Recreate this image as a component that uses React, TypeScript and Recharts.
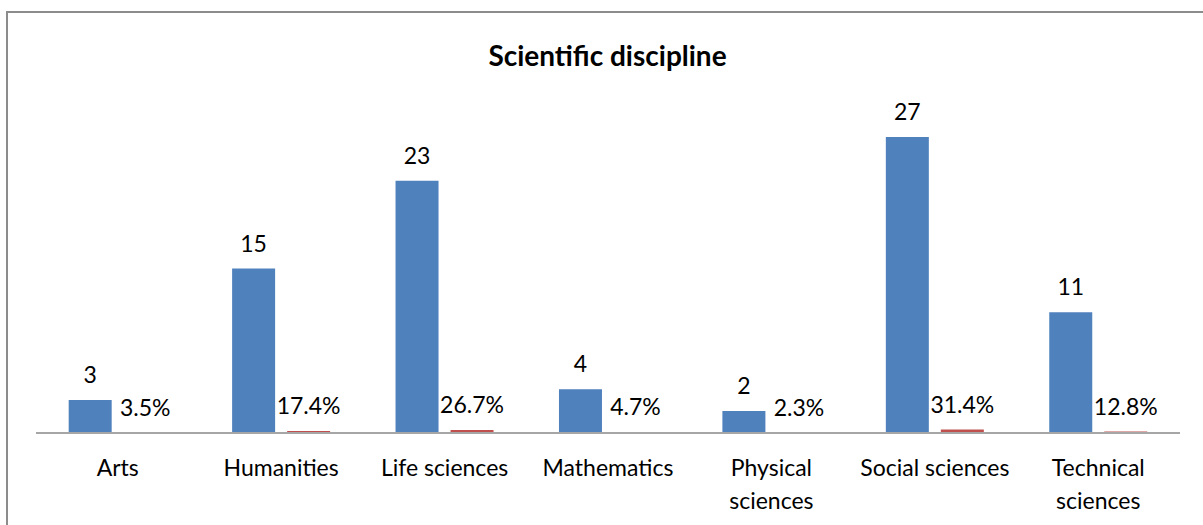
import React from 'react';
import { BarChart, Bar, XAxis, YAxis, LabelList } from 'recharts';

const categories = ['Arts', 'Humanities', 'Life sciences', 'Mathematics', 'Physical sciences', 'Social sciences', 'Technical sciences'];
const tickLines: Record<string, string[]> = {
  'Physical sciences': ['Physical', 'sciences'],
  'Technical sciences': ['Technical', 'sciences'],
};
const counts = [3, 15, 23, 4, 2, 27, 11];
const shares = [0.035, 0.174, 0.267, 0.047, 0.023, 0.314, 0.128];

const data = categories.map((c, i) => ({ name: c, count: counts[i], share: shares[i] }));

const FONT = 'Lato, "Open Sans", sans-serif';
const FS = 23;

const Tick = (props: any) => {
  const { x, y, payload } = props;
  const lines = tickLines[payload.value] || [payload.value];
  return (
    <g>
      {lines.map((l: string, i: number) => (
        <text key={i} x={x} y={y + 26 + i * 33} textAnchor="middle" dominantBaseline="central" fontSize={FS} fontFamily={FONT} fill="#000">
          {l}
        </text>
      ))}
    </g>
  );
};

const makeLabel = (fmt: (v: number) => string) => (props: any) => {
  const { x, y, width, value } = props;
  return (
    <text x={x + width / 2} y={y - 26} textAnchor="middle" dominantBaseline="central" fontSize={FS} fontFamily={FONT} fill="#000">
      {fmt(value)}
    </text>
  );
};

export default function App() {
  return (
    <div style={{ position: 'absolute', left: 0, top: 0, width: 1203, height: 525, overflow: 'hidden', background: '#fff' }}>
      <div style={{ position: 'absolute', left: 6, top: 11, width: 1220, height: 540, border: '2px solid #8c8c8c', boxSizing: 'border-box' }} />
      <div style={{ position: 'absolute', left: 0, top: 55, width: 1215, textAlign: 'center', fontFamily: FONT, fontWeight: 'bold', fontSize: 28, lineHeight: '0px' }}>
        Scientific discipline
      </div>
      <div style={{ position: 'absolute', left: 0, top: 0 }}>
        <BarChart width={1203} height={525} data={data} margin={{ top: 104, right: 23, left: 36, bottom: 0 }} barCategoryGap="20%" barGap={12}>
          <XAxis dataKey="name" axisLine={{ stroke: '#a6a6a6', strokeWidth: 2 }} tickLine={false} tick={<Tick />} interval={0} height={92} />
          <YAxis hide domain={[0, 30]} />
          <Bar dataKey="count" fill="#4F81BD" isAnimationActive={false}>
            <LabelList dataKey="count" content={makeLabel((v) => String(v))} />
          </Bar>
          <Bar dataKey="share" fill="#C0504D" isAnimationActive={false}>
            <LabelList dataKey="share" content={makeLabel((v) => (v * 100).toFixed(1) + '%')} />
          </Bar>
        </BarChart>
      </div>
    </div>
  );
}
